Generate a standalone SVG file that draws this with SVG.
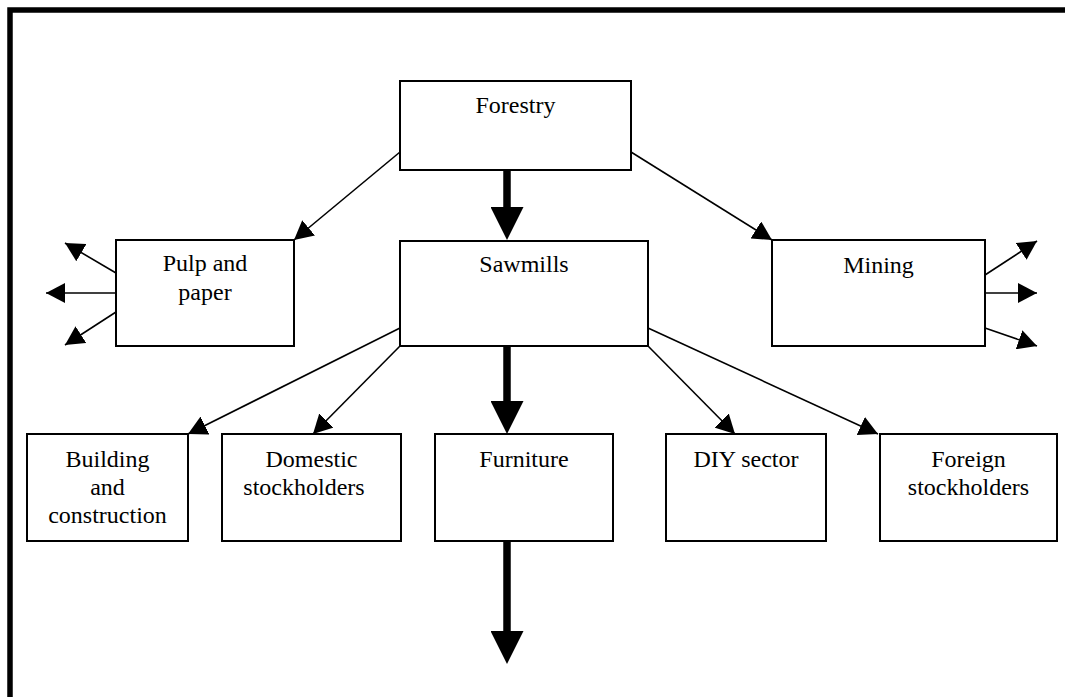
<svg xmlns="http://www.w3.org/2000/svg" width="1065" height="697" viewBox="0 0 1065 697">
<style>
.box{fill:#fff;stroke:#000;stroke-width:2}
.lbl{font-family:"Liberation Serif","Times New Roman",serif;font-size:24px;fill:#000;text-anchor:middle}
.thin{stroke:#000;stroke-width:1.6;fill:none;marker-end:url(#ah)}
.thick{stroke:#000;stroke-width:7.5;fill:none;marker-end:url(#bh)}
</style>
<defs>
<marker id="ah" markerUnits="userSpaceOnUse" viewBox="0 0 19 20" markerWidth="19" markerHeight="20" refX="19" refY="10" orient="auto">
<path d="M0,0 L19,10 L0,20 z" fill="#000"/>
</marker>
<marker id="bh" markerUnits="userSpaceOnUse" viewBox="0 0 33 33" markerWidth="33" markerHeight="33" refX="0" refY="16.5" orient="auto">
<path d="M0,0 L33,16.5 L0,33 z" fill="#000"/>
</marker>
</defs>
<rect width="1065" height="697" fill="#fff"/>
<path d="M10,697 V10 H1065" fill="none" stroke="#000" stroke-width="5.5"/>
<g id="connectors">
<line class="thin" x1="400" y1="152" x2="294" y2="240"/>
<line class="thin" x1="631" y1="152" x2="772" y2="240"/>
<line class="thin" x1="116" y1="273" x2="65" y2="243"/>
<line class="thin" x1="116" y1="293" x2="46" y2="293"/>
<line class="thin" x1="116" y1="312" x2="65" y2="345"/>
<line class="thin" x1="985" y1="275" x2="1037" y2="241"/>
<line class="thin" x1="985" y1="293" x2="1037" y2="293"/>
<line class="thin" x1="985" y1="328" x2="1037" y2="346"/>
<line class="thin" x1="400" y1="328" x2="188" y2="434"/>
<line class="thin" x1="400" y1="346" x2="313" y2="434"/>
<line class="thin" x1="648" y1="346" x2="735" y2="434"/>
<line class="thin" x1="648" y1="328" x2="878" y2="434"/>
<line class="thick" x1="507" y1="170" x2="507" y2="207"/>
<line class="thick" x1="507" y1="346" x2="507" y2="401"/>
<line class="thick" x1="507" y1="541" x2="507" y2="631"/>
</g>
<g id="forestry"><rect class="box" x="400" y="81" width="231" height="89"/><text class="lbl" x="515.5" y="113">Forestry</text></g>
<g id="sawmills"><rect class="box" x="400" y="241" width="248" height="105"/><text class="lbl" x="524" y="272">Sawmills</text></g>
<g id="pulp"><rect class="box" x="116" y="240" width="178" height="106"/><text class="lbl" x="205" y="271">Pulp and</text><text class="lbl" x="205" y="300">paper</text></g>
<g id="mining"><rect class="box" x="772" y="240" width="213" height="106"/><text class="lbl" x="878.5" y="273">Mining</text></g>
<g id="building"><rect class="box" x="27" y="434" width="161" height="107"/><text class="lbl" x="107.5" y="467">Building</text><text class="lbl" x="107.5" y="495">and</text><text class="lbl" x="107.5" y="523">construction</text></g>
<g id="domestic"><rect class="box" x="222" y="434" width="179" height="107"/><text class="lbl" x="311.5" y="467">Domestic</text><text class="lbl" x="304" y="495">stockholders</text></g>
<g id="furniture"><rect class="box" x="435" y="434" width="178" height="107"/><text class="lbl" x="524" y="467">Furniture</text></g>
<g id="diy"><rect class="box" x="666" y="434" width="160" height="107"/><text class="lbl" x="746" y="467">DIY sector</text></g>
<g id="foreign"><rect class="box" x="880" y="434" width="177" height="107"/><text class="lbl" x="968.5" y="467">Foreign</text><text class="lbl" x="968.5" y="495">stockholders</text></g>
</svg>
